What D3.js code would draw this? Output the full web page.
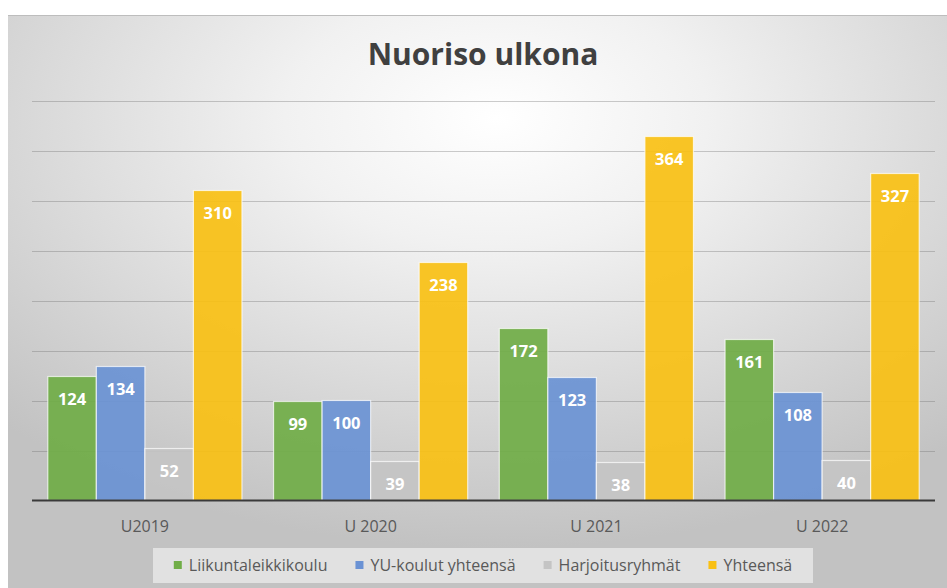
<!DOCTYPE html>
<html>
<head>
<meta charset="utf-8">
<script src="https://cdn.jsdelivr.net/npm/d3@7"></script>
<style>
  html, body { margin: 0; padding: 0; background: #fff; }
  svg { display: block; font-family: "Open Sans", sans-serif; }
</style>
</head>
<body>
<div id="chart"></div>
<script>
const categories = ['U2019', 'U 2020', 'U 2021', 'U 2022'];
const seriesNames = ['Liikuntaleikkikoulu', 'YU-koulut yhteensä', 'Harjoitusryhmät', 'Yhteensä'];
const liikunta = [124, 99, 172, 161];
const yuKoulut = [134, 100, 123, 108];
const harjoitus = [52, 39, 38, 40];
const yhteensa = [310, 238, 364, 327];
const gridTicks = [0, 50, 100, 150, 200, 250, 300, 350, 400];

const colors = ['#70ad47', '#6a92d4', '#c4c4c4', '#f9c013'];
const seriesValues = [liikunta, yuKoulut, harjoitus, yhteensa];

const width = 947;
const height = 588;

const svg = d3.select('#chart')
  .append('svg')
  .attr('width', width)
  .attr('height', height);

// background gradient
const defs = svg.append('defs');
const grad = defs.append('radialGradient')
  .attr('id', 'bg')
  .attr('cx', '0.52')
  .attr('cy', '0.18')
  .attr('r', '0.75');
grad.append('stop').attr('offset', '0').attr('stop-color', '#ffffff');
grad.append('stop').attr('offset', '0.3').attr('stop-color', '#f1f1f1');
grad.append('stop').attr('offset', '1').attr('stop-color', '#c2c2c2');

svg.append('rect')
  .attr('x', 8)
  .attr('y', 15)
  .attr('width', width - 8)
  .attr('height', height - 15)
  .attr('fill', 'url(#bg)');
svg.append('line')
  .attr('x1', 8).attr('x2', width)
  .attr('y1', 15.5).attr('y2', 15.5)
  .attr('stroke', '#bdbdbd');

const x0 = d3.scaleBand()
  .domain(categories)
  .range([32, 935])
  .paddingInner(0.14)
  .paddingOuter(0.07);

const x1 = d3.scaleBand()
  .domain(seriesNames)
  .range([0, x0.bandwidth()]);

const y = d3.scaleLinear()
  .domain([0, 400])
  .range([500.5, 100.5]);

// gridlines
svg.append('g')
  .selectAll('line')
  .data(gridTicks.slice(1))
  .join('line')
  .attr('x1', 32)
  .attr('x2', 935)
  .attr('y1', d => Math.round(y(d)) + 0.5)
  .attr('y2', d => Math.round(y(d)) + 0.5)
  .attr('stroke', '#6e6e6e')
  .attr('stroke-opacity', 0.35);

// bars
const groups = svg.append('g')
  .selectAll('g')
  .data(categories)
  .join('g')
  .attr('transform', d => `translate(${x0(d)},0)`);

const barData = (c, i) => seriesNames.map((s, j) => ({ series: s, j, value: seriesValues[j][i] }));

groups.selectAll('rect')
  .data(barData)
  .join('rect')
  .attr('x', d => x1(d.series))
  .attr('y', d => y(d.value))
  .attr('width', x1.bandwidth())
  .attr('height', d => y(0) - y(d.value))
  .attr('fill', d => colors[d.j])
  .attr('fill-opacity', 0.92)
  .attr('stroke', '#ffffff')
  .attr('stroke-opacity', 0.7)
  .attr('stroke-width', 1.2);

groups.selectAll('text')
  .data(barData)
  .join('text')
  .attr('x', d => x1(d.series) + x1.bandwidth() / 2)
  .attr('y', d => y(d.value) + 28)
  .attr('text-anchor', 'middle')
  .attr('font-size', 16.5)
  .attr('font-weight', 700)
  .attr('fill', '#ffffff')
  .text(d => d.value);

// baseline
svg.append('line')
  .attr('x1', 32)
  .attr('x2', 935)
  .attr('y1', y(0))
  .attr('y2', y(0))
  .attr('stroke', '#3a3a3a')
  .attr('stroke-width', 2.2);

// x axis labels
svg.append('g')
  .selectAll('text')
  .data(categories)
  .join('text')
  .attr('x', d => x0(d) + x0.bandwidth() / 2)
  .attr('y', 532)
  .attr('text-anchor', 'middle')
  .attr('font-size', 16)
  .attr('fill', '#595959')
  .text(d => d);

// title
svg.append('text')
  .attr('x', 483)
  .attr('y', 65)
  .attr('text-anchor', 'middle')
  .attr('font-size', 30)
  .attr('font-weight', 700)
  .attr('fill', '#404040')
  .text('Nuoriso ulkona');

// legend
svg.append('rect')
  .attr('x', 153)
  .attr('y', 548)
  .attr('width', 660)
  .attr('height', 35)
  .attr('fill', '#e6e6e6')
  .attr('fill-opacity', 0.85);

const legend = svg.append('g');
const items = legend.selectAll('g')
  .data(seriesNames)
  .join('g');
items.append('rect')
  .attr('width', 8)
  .attr('height', 8)
  .attr('y', 561)
  .attr('fill', (d, i) => colors[i]);
items.append('text')
  .attr('x', 15)
  .attr('y', 571)
  .attr('font-size', 16)
  .attr('fill', '#595959')
  .text(d => d);

const widths = [];
items.select('text').each(function () { widths.push(this.getComputedTextLength()); });
const gap = 28;
const total = d3.sum(widths) + widths.length * 15 + gap * (widths.length - 1);
let cursor = 483 - total / 2;
items.attr('transform', (d, i) => {
  const t = `translate(${cursor},0)`;
  cursor += 15 + widths[i] + gap;
  return t;
});
</script>
</body>
</html>
